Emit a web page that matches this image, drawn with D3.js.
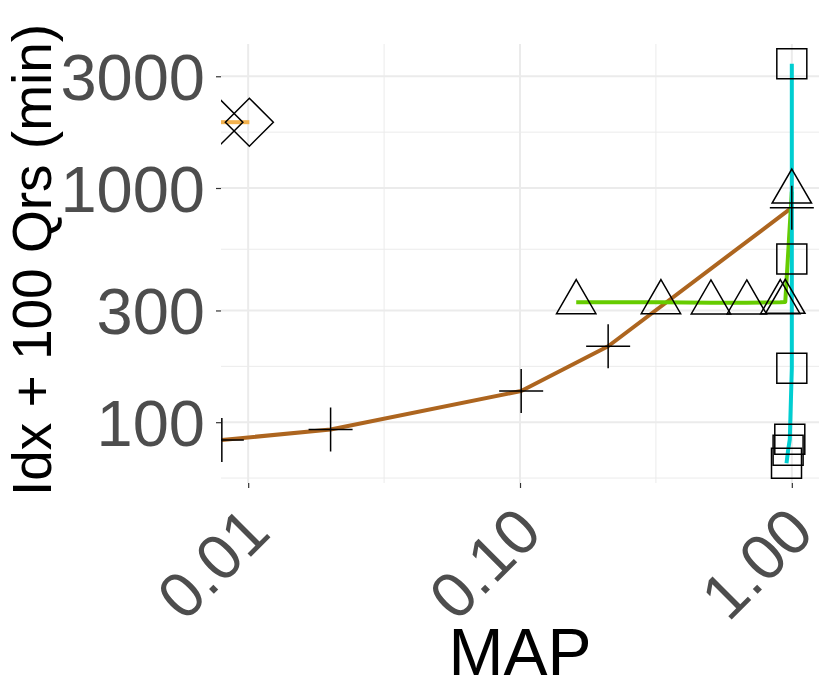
<!DOCTYPE html>
<html>
<head>
<meta charset="utf-8">
<script src="https://cdn.jsdelivr.net/npm/d3@7"></script>
<style>
  body { margin: 0; background: #fff; }
  svg { display: block; font-family: "Liberation Sans", Arial, Helvetica, sans-serif; }
</style>
</head>
<body>
<script>
// tick values of both log axes
var mapTicks = [0.01, 0.1, 1];
var timeTicks = [100, 300, 1000, 3000];

// one pair of arrays per method (MAP, minutes)
var plusMap = [0.008, 0.0201, 0.101, 0.211, 1.0];
var plusTime = [84, 93, 136, 211, 824];

var triangleMap = [0.161, 0.330, 0.504, 0.683, 0.907, 0.946, 1.0];
var triangleTime = [325, 325, 324, 324, 325, 326, 964];

var squareMap = [0.956, 0.969, 0.983, 1.0, 1.0, 1.0];
var squareTime = [66.8, 75.9, 84.5, 170, 497, 3390];

var diamondMap = [0.0078, 0.0101];
var diamondTime = [1910, 1910];

// page size and panel box
var width = 830, height = 692;
var panel = { left: 221, right: 819, top: 44, bottom: 483 };

var svg = d3.select('body').append('svg')
    .attr('width', width)
    .attr('height', height);

// x limits are 0.01..1 with 5% expansion on the log scale
var x = d3.scaleLog()
    .domain([Math.pow(10, -2.1), Math.pow(10, 0.1)])
    .range([panel.left, panel.right]);
var y = d3.scaleLog()
    .domain([55, 4120])
    .range([panel.bottom, panel.top]);

// minor grid lines sit half way between the majors (in log space)
var xMinor = [Math.pow(10, -1.5), Math.pow(10, -0.5)];
var yMinor = [Math.pow(10, 1.7614), Math.pow(10, 2.2386), Math.pow(10, 2.7386), Math.pow(10, 3.2386)];

var grid = svg.append('g');
grid.selectAll('.xminor').data(xMinor).enter().append('line')
    .attr('x1', x).attr('x2', x)
    .attr('y1', panel.top).attr('y2', panel.bottom)
    .attr('stroke', '#EBEBEB').attr('stroke-width', 1);
grid.selectAll('.yminor').data(yMinor).enter().append('line')
    .attr('y1', y).attr('y2', y)
    .attr('x1', panel.left).attr('x2', panel.right)
    .attr('stroke', '#EBEBEB').attr('stroke-width', 1);
grid.selectAll('.xmajor').data(mapTicks).enter().append('line')
    .attr('x1', x).attr('x2', x)
    .attr('y1', panel.top).attr('y2', panel.bottom)
    .attr('stroke', '#EBEBEB').attr('stroke-width', 2);
grid.selectAll('.ymajor').data(timeTicks).enter().append('line')
    .attr('y1', y).attr('y2', y)
    .attr('x1', panel.left).attr('x2', panel.right)
    .attr('stroke', '#EBEBEB').attr('stroke-width', 2);

// axes
var xAxis = d3.axisBottom(x)
    .tickValues(mapTicks)
    .tickFormat(d3.format('.2f'))
    .tickSizeInner(5)
    .tickSizeOuter(0);
var yAxis = d3.axisLeft(y)
    .tickValues(timeTicks)
    .tickFormat(d3.format('d'))
    .tickSizeInner(5)
    .tickSizeOuter(0);

var gx = svg.append('g')
    .attr('transform', 'translate(0,' + panel.bottom + ')')
    .call(xAxis);
gx.select('.domain').remove();
gx.selectAll('line').attr('stroke', '#333333').attr('stroke-width', 1.2);
gx.selectAll('text')
    .attr('y', null).attr('dy', null)
    .attr('text-anchor', 'end')
    .attr('transform', 'translate(24,52) rotate(-45)')
    .attr('fill', '#4D4D4D')
    .style('font-size', '64px');

var gy = svg.append('g')
    .attr('transform', 'translate(' + panel.left + ',0)')
    .call(yAxis);
gy.select('.domain').remove();
gy.selectAll('line').attr('stroke', '#333333').attr('stroke-width', 1.2);
gy.selectAll('text')
    .attr('x', -16)
    .attr('dy', '0.36em')
    .attr('fill', '#4D4D4D')
    .style('font-size', '65px');

// axis titles
svg.append('text')
    .attr('x', (panel.left + panel.right) / 2)
    .attr('y', 675)
    .attr('text-anchor', 'middle')
    .style('font-size', '66px')
    .text('MAP');

svg.append('text')
    .attr('transform', 'translate(51,260) rotate(-90)')
    .attr('text-anchor', 'middle')
    .style('font-size', '55px')
    .text('Idx + 100 Qrs (min)');

// data layer, clipped to the panel
svg.append('clipPath').attr('id', 'panelClip')
    .append('rect')
    .attr('x', panel.left).attr('y', panel.top)
    .attr('width', panel.right - panel.left)
    .attr('height', panel.bottom - panel.top);

var plot = svg.append('g').attr('clip-path', 'url(#panelClip)');

function pairs(xs, ys) {
    return xs.map(function(v, i) { return { map: v, time: ys[i] }; });
}

var series = [
    { data: pairs(plusMap, plusTime), color: '#AD651F', shape: 'plus' },
    { data: pairs(triangleMap, triangleTime), color: '#66CC00', shape: 'triangle' },
    { data: pairs(squareMap, squareTime), color: '#00CED1', shape: 'square' },
    { data: pairs(diamondMap, diamondTime), color: '#F3B24E', shape: 'diamond' }
];

var line = d3.line()
    .x(function(d) { return x(d.map); })
    .y(function(d) { return y(d.time); });

// lines first, points on top
series.forEach(function(s) {
    plot.append('path')
        .datum(s.data)
        .attr('fill', 'none')
        .attr('stroke', s.color)
        .attr('stroke-width', 4)
        .attr('stroke-linejoin', 'round')
        .attr('d', line);
});

// open point shapes like R's pch 0, 2, 3, 5
var shapePath = {
    square: 'M-15,-15H15V15H-15Z',
    triangle: 'M0,-22.7L19.7,11.35H-19.7Z',
    plus: 'M-22,0H22M0,-22V22',
    diamond: 'M0,-24L24,0L0,24L-24,0Z'
};

series.forEach(function(s) {
    plot.selectAll(null)
        .data(s.data)
        .enter().append('path')
        .attr('transform', function(d) {
            return 'translate(' + x(d.map) + ',' + y(d.time) + ')';
        })
        .attr('d', shapePath[s.shape])
        .attr('fill', 'none')
        .attr('stroke', '#000')
        .attr('stroke-width', 1.5);
});
</script>
</body>
</html>
